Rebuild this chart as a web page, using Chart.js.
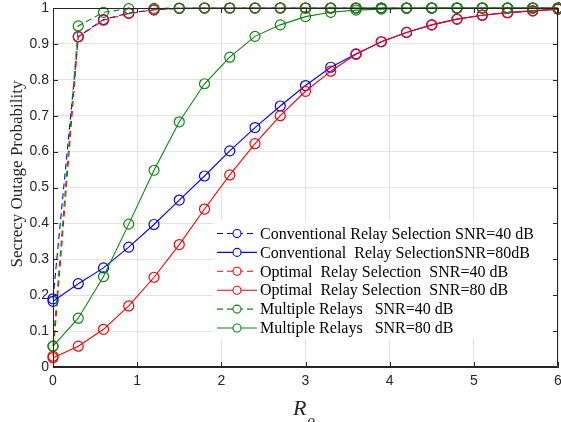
<!DOCTYPE html>
<html>
<head>
<meta charset="utf-8">
<script src="https://cdn.jsdelivr.net/npm/chart.js@4.4.1/dist/chart.umd.min.js"></script>
<style>
  html, body { margin: 0; padding: 0; background: #fff; }
  .chart-box { width: 561px; height: 422px; position: relative; }
</style>
</head>
<body>
<div class="chart-box"><canvas id="chart"></canvas></div>
<script>
// R_o values (x axis)
const rates = [0, 0.3, 0.6, 0.9, 1.2, 1.5, 1.8, 2.1, 2.4, 2.7, 3.0, 3.3, 3.6, 3.9, 4.2, 4.5, 4.8, 5.1, 5.4, 5.7, 6.0]

// secrecy outage probability, one array per curve
const conv40 = [0.19, 0.92, 0.968, 0.986, 0.995, 0.999, 1, 1, 1, 1, 1, 1, 1, 1, 1, 1, 1, 1, 1, 1, 1]
const conv80 = [0.183, 0.232, 0.276, 0.334, 0.397, 0.465, 0.532, 0.602, 0.667, 0.727, 0.784, 0.835, 0.872, 0.906, 0.932, 0.953, 0.969, 0.98, 0.987, 0.992, 0.997]
const opt40 = [0.03, 0.92, 0.966, 0.985, 0.995, 0.999, 1, 1, 1, 1, 1, 1, 1, 1, 1, 1, 1, 1, 1, 1, 1]
const opt80 = [0.026, 0.058, 0.105, 0.17, 0.25, 0.341, 0.44, 0.535, 0.622, 0.70, 0.768, 0.824, 0.871, 0.906, 0.932, 0.953, 0.969, 0.98, 0.987, 0.992, 0.997]
const multi40 = [0.058, 0.95, 0.988, 0.998, 0.999, 1, 1, 1, 1, 1, 1, 1, 1, 1, 1, 1, 1, 1, 1, 1, 1]
const multi80 = [0.058, 0.136, 0.252, 0.398, 0.548, 0.683, 0.789, 0.863, 0.921, 0.953, 0.976, 0.988, 0.994, 0.997, 0.999, 1, 1, 1, 1, 1, 1]

const seriesNames = [
  'Conventional Relay Selection SNR=40 dB',
  'Conventional  Relay SelectionSNR=80dB',
  'Optimal  Relay Selection  SNR=40 dB',
  'Optimal  Relay Selection  SNR=80 dB',
  'Multiple Relays   SNR=40 dB',
  'Multiple Relays   SNR=80 dB',
]

const xTickLabels = ['0', '1', '2', '3', '4', '5', '6']
const yTickLabels = ['0', '0.1', '0.2', '0.3', '0.4', '0.5', '0.6', '0.7', '0.8', '0.9', '1']

const BLUE = '#0000ff'
const RED = '#ff0000'
const GREEN = '#0a8a0a'
const AXIS = '#262626'
const DASH = [6, 4]

const toPoints = (ys) => rates.map((x, i) => ({ x, y: ys[i] }))

const makeSet = (label, ys, color, dashed, order) => ({
  label,
  data: toPoints(ys),
  borderColor: color,
  backgroundColor: 'transparent',
  borderWidth: 1.1,
  borderDash: dashed ? DASH : [],
  pointStyle: 'circle',
  pointRadius: 5,
  pointBorderWidth: 1.2,
  pointBorderColor: color,
  pointBackgroundColor: 'transparent',
  tension: 0,
  clip: false,
  order,
})

// MATLAB-like frame: box on top/right and inward ticks
const frame = {
  id: 'frame',
  afterDatasetsDraw(chart) {
    const { ctx, chartArea: a, scales } = chart
    ctx.save()
    ctx.strokeStyle = AXIS
    ctx.lineWidth = 1
    ctx.beginPath()
    ctx.rect(a.left + 0.5, a.top + 0.5, a.right - a.left - 1, a.bottom - a.top - 1)
    scales.x.ticks.forEach((t) => {
      const px = Math.round(scales.x.getPixelForValue(t.value)) + 0.5
      ctx.moveTo(px, a.bottom); ctx.lineTo(px, a.bottom - 5)
      ctx.moveTo(px, a.top); ctx.lineTo(px, a.top + 5)
    })
    scales.y.ticks.forEach((t) => {
      const py = Math.round(scales.y.getPixelForValue(t.value)) + 0.5
      ctx.moveTo(a.left, py); ctx.lineTo(a.left + 5, py)
      ctx.moveTo(a.right, py); ctx.lineTo(a.right - 5, py)
    })
    ctx.stroke()

    // axis titles
    ctx.fillStyle = AXIS
    ctx.textBaseline = 'alphabetic'
    ctx.textAlign = 'left'
    const cx = (a.left + a.right) / 2
    ctx.font = 'italic 22px "Liberation Serif"'
    const rw = ctx.measureText('R').width
    ctx.fillText('R', cx - rw + 1, 415)
    ctx.font = 'italic 15px "Liberation Serif"'
    ctx.fillText('o', cx + 2, 425)

    ctx.translate(22, 174)
    ctx.rotate(-Math.PI / 2)
    ctx.textAlign = 'center'
    ctx.font = '17px "Liberation Serif"'
    ctx.fillText('Secrecy Outage Probability', 0, 0)
    ctx.restore()
  },
}

// legend box inside the axes
const innerLegend = {
  id: 'innerLegend',
  afterDraw(chart) {
    const { ctx, chartArea: a } = chart
    const left = a.left + 160
    const top = 220
    ctx.save()
    ctx.fillStyle = '#fff'
    ctx.fillRect(left, top, 340, 118)
    chart.data.datasets.forEach((ds, i) => {
      const y = 233.5 + i * 18.9
      ctx.strokeStyle = ds.borderColor
      ctx.lineWidth = 1.1
      ctx.setLineDash(ds.borderDash)
      ctx.beginPath()
      ctx.moveTo(left + 4, y)
      ctx.lineTo(left + 44, y)
      ctx.stroke()
      ctx.setLineDash([])
      ctx.beginPath()
      ctx.arc(left + 24, y, 4, 0, Math.PI * 2)
      ctx.fillStyle = '#fff'
      ctx.fill()
      ctx.stroke()
      ctx.fillStyle = '#000'
      ctx.font = '16px "Liberation Serif"'
      ctx.textBaseline = 'middle'
      ctx.fillText(seriesNames[i], left + 47, y + 1)
    })
    ctx.restore()
  },
}

new Chart(document.getElementById('chart'), {
  type: 'line',
  data: {
    datasets: [
      makeSet(seriesNames[0], conv40, BLUE, true, 6),
      makeSet(seriesNames[1], conv80, BLUE, false, 5),
      makeSet(seriesNames[2], opt40, RED, true, 4),
      makeSet(seriesNames[3], opt80, RED, false, 3),
      makeSet(seriesNames[4], multi40, GREEN, true, 2),
      makeSet(seriesNames[5], multi80, GREEN, false, 1),
    ],
  },
  options: {
    responsive: true,
    maintainAspectRatio: false,
    animation: false,
    layout: { autoPadding: false, padding: { left: 0, top: 8, right: 3, bottom: 0 } },
    plugins: {
      legend: { display: false },
      tooltip: { enabled: false },
    },
    scales: {
      x: {
        type: 'linear',
        min: 0,
        max: 6,
        afterFit: (scale) => {
          scale.height = 55
          scale.paddingLeft = 0
          scale.paddingRight = 0
        },
        ticks: {
          stepSize: 1,
          padding: 6,
          color: AXIS,
          font: { family: 'Liberation Sans', size: 14 },
          callback: (v) => xTickLabels[Math.round(v)],
        },
        grid: { color: '#e3e3e3', lineWidth: 1, drawTicks: false },
        border: { display: true, color: AXIS, width: 1 },
      },
      y: {
        min: 0,
        max: 1,
        afterFit: (scale) => {
          scale.width = 53
          scale.paddingTop = 0
          scale.paddingBottom = 0
        },
        ticks: {
          stepSize: 0.1,
          padding: 4,
          color: AXIS,
          font: { family: 'Liberation Sans', size: 14 },
          callback: (v) => yTickLabels[Math.round(v * 10)],
        },
        grid: { color: '#e3e3e3', lineWidth: 1, drawTicks: false },
        border: { display: true, color: AXIS, width: 1 },
      },
    },
  },
  plugins: [frame, innerLegend],
})
</script>
</body>
</html>
